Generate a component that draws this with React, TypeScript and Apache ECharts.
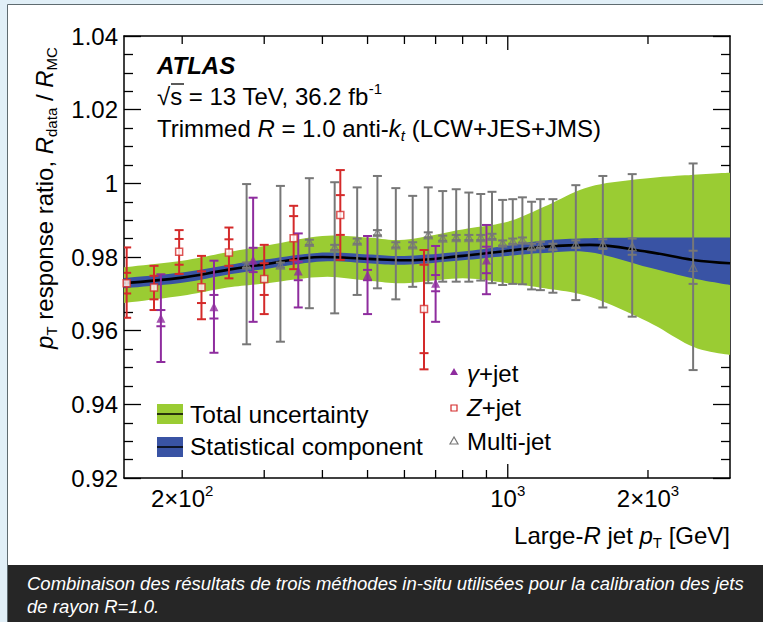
import React, { useEffect, useRef } from "react";
import * as echarts from "echarts";

// ---------------- axes ----------------
const X_RANGE = [150, 3000];
const Y_RANGE = [0.92, 1.04];
const Y_STEP = 0.02;
const xTickValues = [200, 300, 400, 500, 600, 700, 800, 900, 1000, 2000];
const xMajorTickValues = [1000];
const xLabelValues = [200, 1000, 2000];
const xLabelBase = ["2×10", "10", "2×10"];
const xLabelExp = ["2", "3", "3"];

// ---------------- uncertainty bands ----------------
const bandPt = [150, 200, 250, 300, 400, 500, 600, 800, 1000, 1200, 1500, 2000, 2500, 3000];
const centralValue = [0.9729, 0.9744, 0.9765, 0.978, 0.98, 0.9795, 0.9791, 0.9803, 0.9817, 0.9828, 0.9833, 0.9814, 0.9792, 0.9783];
const totalUp = [0.9772, 0.979, 0.9813, 0.983, 0.9857, 0.9853, 0.9847, 0.9875, 0.9896, 0.9937, 0.9991, 1.0014, 1.0023, 1.0029];
const totalDown = [0.9675, 0.9695, 0.9717, 0.9728, 0.9746, 0.9736, 0.9729, 0.9742, 0.9729, 0.9715, 0.9692, 0.9624, 0.9556, 0.9534];
const statUp = [0.9743, 0.9758, 0.9778, 0.9793, 0.9812, 0.9807, 0.9803, 0.9815, 0.9831, 0.9845, 0.9851, 0.9853, 0.9853, 0.9853];
const statDown = [0.9715, 0.973, 0.9752, 0.9767, 0.9788, 0.9783, 0.9779, 0.9791, 0.9803, 0.9811, 0.9813, 0.9772, 0.9742, 0.9724];

// ---------------- gamma + jet ----------------
const gammaPt = [180, 234, 284, 355, 500, 700, 900];
const gammaValue = [0.9634, 0.9665, 0.9792, 0.9762, 0.9751, 0.9729, 0.9792];
const gammaHigh = [0.9753, 0.979, 0.9961, 0.9864, 0.9857, 0.983, 0.9887];
const gammaLow = [0.9515, 0.954, 0.9624, 0.9663, 0.9645, 0.9624, 0.9699];
const gammaStat = [0.0022, 0.0032, 0.0033, 0.0025, 0.0014, 0.0022, 0.0036];

// ---------------- Z + jet ----------------
const zPt = [152, 174, 197, 220, 252, 300, 347, 437, 661];
const zValue = [0.9729, 0.9717, 0.9814, 0.9718, 0.9812, 0.974, 0.9851, 0.9914, 0.9659];
const zHigh = [0.9826, 0.9776, 0.9873, 0.9803, 0.988, 0.9833, 0.9939, 1.0036, 0.9819];
const zLow = [0.9635, 0.9656, 0.9754, 0.9631, 0.9742, 0.9645, 0.9767, 0.9792, 0.9495];
const zStat = [0.0028, 0.0032, 0.0035, 0.0043, 0.0036, 0.0043, 0.006, 0.0054, 0.012];

// ---------------- multi-jet ----------------
const multiPt = [275, 325, 375, 425, 475, 525, 575, 625, 675, 725, 775, 825, 875, 925, 975, 1025, 1075, 1125, 1175, 1250, 1400, 1600, 1850, 2500];
const multiValue = [0.9778, 0.9778, 0.984, 0.9826, 0.9843, 0.9866, 0.9833, 0.9833, 0.986, 0.9851, 0.9853, 0.9853, 0.9853, 0.9856, 0.9838, 0.9843, 0.9846, 0.9828, 0.9833, 0.9828, 0.9835, 0.9835, 0.9828, 0.9772];
const multiHigh = [0.9998, 0.9993, 1.0014, 1.0003, 0.9989, 1.002, 0.9987, 0.9966, 0.9989, 0.9979, 0.9984, 0.9975, 0.9971, 0.9977, 0.9955, 0.9957, 0.9962, 0.995, 0.9957, 0.9957, 0.9995, 1.002, 1.0025, 1.0054];
const multiLow = [0.9563, 0.957, 0.9661, 0.9647, 0.9697, 0.9715, 0.9685, 0.9719, 0.9729, 0.9733, 0.9733, 0.9733, 0.9736, 0.9729, 0.9724, 0.9727, 0.9726, 0.9712, 0.971, 0.9703, 0.9683, 0.9663, 0.9638, 0.9493];
const multiStat = [0.0007, 0.0007, 0.0007, 0.0007, 0.0007, 0.0007, 0.0007, 0.0007, 0.0007, 0.0007, 0.0007, 0.0007, 0.0007, 0.0007, 0.0007, 0.0007, 0.0007, 0.0008, 0.0008, 0.0008, 0.001, 0.0013, 0.0022, 0.0045];

// ---------------- style ----------------
const FONT = '"Liberation Sans", Arial, Helvetica, sans-serif';
const GREEN = "#9acc33";
const BLUE = "#3953a4";
const PURPLE = "#8e2c9e";
const RED = "#d42a2a";
const GREY = "#777777";

// Catmull-Rom smoothing of already-projected pixel points (rendering only)
function smoothPixels(pts: number[][], samples = 10): number[][] {
  const out: number[][] = [];
  const n = pts.length;
  for (let i = 0; i < n - 1; i++) {
    const p0 = pts[Math.max(i - 1, 0)];
    const p1 = pts[i];
    const p2 = pts[i + 1];
    const p3 = pts[Math.min(i + 2, n - 1)];
    for (let k = 0; k < samples; k++) {
      const t = k / samples;
      const t2 = t * t;
      const t3 = t2 * t;
      const f = (a: number, b: number, c: number, d: number) =>
        0.5 * (2 * b + (-a + c) * t + (2 * a - 5 * b + 4 * c - d) * t2 + (-a + 3 * b - 3 * c + d) * t3);
      out.push([f(p0[0], p1[0], p2[0], p3[0]), f(p0[1], p1[1], p2[1], p3[1])]);
    }
  }
  out.push(pts[n - 1]);
  return out;
}

function bandSeries(xs: number[], lo: number[], hi: number[], color: string, z: number) {
  return {
    type: "custom",
    silent: true,
    clip: true,
    z,
    data: xs.map((x, i) => [x, lo[i], hi[i]]),
    encode: { x: 0, y: [1, 2] },
    renderItem: (params: any, api: any) => {
      if (params.dataIndex !== 0) return null;
      const up = smoothPixels(xs.map((x, i) => api.coord([x, hi[i]])));
      const dn = smoothPixels(xs.map((x, i) => api.coord([x, lo[i]])));
      return {
        type: "polygon",
        shape: { points: up.concat(dn.reverse()) },
        style: { fill: color, stroke: "none" },
      };
    },
  };
}

function errorBars(xs: number[], ys: number[], los: number[], his: number[], stats: number[], color: string, z: number) {
  return {
    type: "custom",
    silent: true,
    clip: true,
    z,
    data: xs.map((x, i) => [x, ys[i], los[i], his[i], stats[i]]),
    encode: { x: 0, y: [1, 2, 3] },
    renderItem: (_p: any, api: any) => {
      const x = api.value(0);
      const y = api.value(1);
      const lo = api.value(2);
      const hi = api.value(3);
      const s = api.value(4);
      const pHi = api.coord([x, hi]);
      const pLo = api.coord([x, lo]);
      const pSh = api.coord([x, y + s]);
      const pSl = api.coord([x, y - s]);
      const w = 4.5;
      const st = { stroke: color, lineWidth: 2 };
      const cap = (p: number[]) => ({ type: "line", shape: { x1: p[0] - w, y1: p[1], x2: p[0] + w, y2: p[1] }, style: st });
      return {
        type: "group",
        children: [
          { type: "line", shape: { x1: pHi[0], y1: pHi[1], x2: pLo[0], y2: pLo[1] }, style: st },
          cap(pHi),
          cap(pLo),
          cap(pSh),
          cap(pSl),
        ],
      };
    },
  };
}

const richBase = {
  n: { fontFamily: FONT, fontSize: 24, color: "#000", lineHeight: 30, verticalAlign: "middle" },
  i: { fontFamily: FONT, fontSize: 24, fontStyle: "italic", color: "#000", lineHeight: 30, verticalAlign: "middle" },
  sup: { fontFamily: FONT, fontSize: 15, color: "#000", lineHeight: 15, verticalAlign: "top" },
  sub: { fontFamily: FONT, fontSize: 15, color: "#000", lineHeight: 15, verticalAlign: "bottom" },
  isub: { fontFamily: FONT, fontSize: 15, fontStyle: "italic", color: "#000", lineHeight: 15, verticalAlign: "bottom" },
};

export default function App() {
  const ref = useRef<HTMLDivElement>(null);
  useEffect(() => {
    if (!ref.current) return;
    const chart = echarts.init(ref.current, undefined, { renderer: "svg" });
    const axisLine = { show: true, onZero: false, lineStyle: { color: "#000", width: 1.5 } };
    const yAxisBase = {
      type: "value",
      min: Y_RANGE[0],
      max: Y_RANGE[1],
      interval: Y_STEP,
      axisLine,
      axisTick: { show: true, inside: true, length: 17, lineStyle: { color: "#000", width: 1.3 } },
      minorTick: { show: true, splitNumber: 4, length: 9, lineStyle: { color: "#000", width: 1.3 } },
      splitLine: { show: false },
      minorSplitLine: { show: false },
    };
    const xAxisBase = {
      type: "log",
      logBase: 10,
      min: X_RANGE[0],
      max: X_RANGE[1],
      axisLine,
      axisTick: { show: false },
      axisLabel: { show: false },
      splitLine: { show: false },
    };
    const option: any = {
      animation: false,
      backgroundColor: "#e1eff7",
      grid: { left: 124, top: 36, width: 606, height: 442 },
      xAxis: [
        { ...xAxisBase, position: "bottom" },
        { ...xAxisBase, position: "top" },
      ],
      yAxis: [
        {
          ...yAxisBase,
          position: "left",
          axisLabel: {
            show: true,
            margin: 6,
            color: "#000",
            fontSize: 24,
            fontFamily: FONT,
            formatter: (v: number) => (Math.abs(v - 1) < 1e-9 ? "1" : v.toFixed(2)),
          },
        },
        { ...yAxisBase, position: "right", axisLabel: { show: false } },
      ],
      series: [
        bandSeries(bandPt, totalDown, totalUp, GREEN, 1),
        bandSeries(bandPt, statDown, statUp, BLUE, 2),
        {
          type: "line", smooth: 0.4, symbol: "none", silent: true, z: 3,
          lineStyle: { color: "#000", width: 2.6 },
          data: bandPt.map((x, i) => [x, centralValue[i]]),
        },
        errorBars(multiPt, multiValue, multiLow, multiHigh, multiStat, GREY, 4),
        errorBars(zPt, zValue, zLow, zHigh, zStat, RED, 4),
        errorBars(gammaPt, gammaValue, gammaLow, gammaHigh, gammaStat, PURPLE, 4),
        {
          type: "scatter", silent: true, z: 5, symbol: "triangle", symbolSize: 8,
          itemStyle: { color: "rgba(0,0,0,0)", borderColor: GREY, borderWidth: 1.3 },
          data: multiPt.map((x, i) => [x, multiValue[i]]),
        },
        {
          type: "scatter", silent: true, z: 5, symbol: "rect", symbolSize: 7,
          itemStyle: { color: "#fff", borderColor: RED, borderWidth: 1.5 },
          data: zPt.map((x, i) => [x, zValue[i]]),
        },
        {
          type: "scatter", silent: true, z: 5, symbol: "triangle", symbolSize: 9,
          itemStyle: { color: PURPLE },
          data: gammaPt.map((x, i) => [x, gammaValue[i]]),
        },
        {
          type: "custom", silent: true, clip: false, z: 8,
          data: xTickValues.map((v) => [v, Y_RANGE[0]]),
          encode: { x: 0, y: 1 },
          renderItem: (_p: any, api: any) => {
            const v = api.value(0);
            const b = api.coord([v, Y_RANGE[0]]);
            const t = api.coord([v, Y_RANGE[1]]);
            const len = xMajorTickValues.includes(v) ? 14 : 8;
            const st = { stroke: "#000", lineWidth: 1.3 };
            return {
              type: "group",
              children: [
                { type: "line", shape: { x1: b[0], y1: b[1], x2: b[0], y2: b[1] - len }, style: st },
                { type: "line", shape: { x1: t[0], y1: t[1], x2: t[0], y2: t[1] + len }, style: st },
              ],
            };
          },
        },
        {
          type: "custom", silent: true, clip: false, z: 8,
          data: xLabelValues.map((v, i) => [v, Y_RANGE[0], i]),
          encode: { x: 0, y: 1 },
          renderItem: (_p: any, api: any) => {
            const v = api.value(0);
            const i = api.value(2);
            const b = api.coord([v, Y_RANGE[0]]);
            return {
              type: "text",
              x: b[0],
              y: b[1] + 20,
              style: {
                text: `{n|${xLabelBase[i]}}{sup|${xLabelExp[i]}}`,
                rich: richBase,
                align: "center",
                verticalAlign: "middle",
              },
            };
          },
        },
      ],
      graphic: [
        { type: "rect", z: -10, shape: { x: 7.5, y: 4.5, width: 800, height: 700 }, style: { fill: "#fff", stroke: "#5f6b70", lineWidth: 1 } },
        { type: "rect", z: 100, shape: { x: 8, y: 565, width: 800, height: 60 }, style: { fill: "#262626" } },
        {
          type: "text", z: 101, x: 27, y: 583,
          style: { text: "Combinaison des résultats de trois méthodes in-situ utilisées pour la calibration des jets", font: `italic 18.5px ${FONT}`, fill: "#fff", verticalAlign: "middle" },
        },
        {
          type: "text", z: 101, x: 27, y: 606,
          style: { text: "de rayon R=1.0.", font: `italic 18.5px ${FONT}`, fill: "#fff", verticalAlign: "middle" },
        },
        {
          type: "text", z: 20, x: 157, y: 65,
          style: { text: "ATLAS", font: `italic bold 24px ${FONT}`, fill: "#000", verticalAlign: "middle" },
        },
        {
          type: "text", z: 20, x: 157, y: 96,
          style: { text: "{n|√}{n|s = 13 TeV, 36.2 fb}{sup|-1}", rich: richBase, verticalAlign: "middle" },
        },
        { type: "line", z: 20, shape: { x1: 171, y1: 84, x2: 184, y2: 84 }, style: { stroke: "#000", lineWidth: 1.3 } },
        {
          type: "text", z: 20, x: 157, y: 128,
          style: { text: "{n|Trimmed }{i|R}{n| = 1.0 anti-}{i|k}{isub|t}{n| (LCW+JES+JMS)}", rich: richBase, verticalAlign: "middle" },
        },
        {
          type: "text", z: 20, x: 44, y: 198, rotation: Math.PI / 2,
          style: { text: "{i|p}{sub|T}{n| response ratio, }{i|R}{sub|data}{n| / }{i|R}{sub|MC}", rich: richBase, align: "center", verticalAlign: "middle" },
        },
        {
          type: "text", z: 20, x: 730, y: 535,
          style: { text: "{n|Large-}{i|R}{n| jet }{i|p}{sub|T}{n| [GeV]}", rich: richBase, align: "right", verticalAlign: "middle" },
        },
        // legend: bands
        { type: "rect", z: 20, shape: { x: 157, y: 404, width: 26, height: 20 }, style: { fill: GREEN } },
        { type: "line", z: 21, shape: { x1: 157, y1: 414, x2: 183, y2: 414 }, style: { stroke: "#000", lineWidth: 1.5 } },
        { type: "rect", z: 20, shape: { x: 157, y: 437, width: 26, height: 20 }, style: { fill: BLUE } },
        { type: "line", z: 21, shape: { x1: 157, y1: 447, x2: 183, y2: 447 }, style: { stroke: "#000", lineWidth: 1.5 } },
        { type: "text", z: 20, x: 190, y: 414, style: { text: "Total uncertainty", font: `24.5px ${FONT}`, fill: "#000", verticalAlign: "middle" } },
        { type: "text", z: 20, x: 190, y: 446, style: { text: "Statistical component", font: `24.5px ${FONT}`, fill: "#000", verticalAlign: "middle" } },
        // legend: markers
        { type: "polygon", z: 20, shape: { points: [[454, 368], [450, 375], [458, 375]] }, style: { fill: PURPLE } },
        { type: "rect", z: 20, shape: { x: 451, y: 405, width: 6, height: 6 }, style: { fill: "#fff", stroke: RED, lineWidth: 1.2 } },
        { type: "polygon", z: 20, shape: { points: [[454, 437], [450, 444], [458, 444]] }, style: { fill: "none", stroke: GREY, lineWidth: 1.2 } },
        { type: "text", z: 20, x: 467, y: 373, style: { text: "{i|γ}{n|+jet}", rich: richBase, verticalAlign: "middle" } },
        { type: "text", z: 20, x: 467, y: 407, style: { text: "{i|Z}{n|+jet}", rich: richBase, verticalAlign: "middle" } },
        { type: "text", z: 20, x: 467, y: 441, style: { text: "{n|Multi-jet}", rich: richBase, verticalAlign: "middle" } },
      ],
    };
    chart.setOption(option);
    return () => chart.dispose();
  }, []);
  return <div ref={ref} style={{ position: "absolute", left: 0, top: 0, width: 763, height: 622 }} />;
}
